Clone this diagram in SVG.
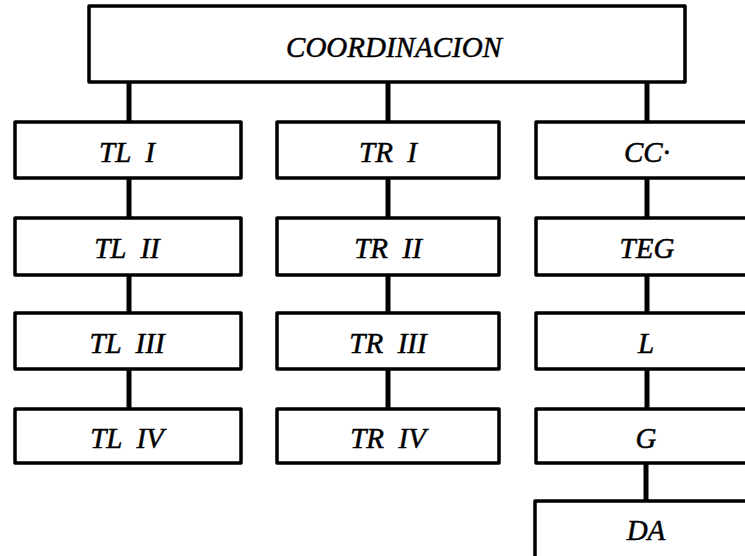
<svg xmlns="http://www.w3.org/2000/svg" width="745" height="556" viewBox="0 0 745 556">
<style>
.box{fill:#fff;stroke:#000;stroke-width:3.5;stroke-linejoin:round}
.lbl{font-family:"Liberation Serif","Times New Roman",serif;font-style:italic;font-size:29px;fill:#000;stroke:#000;stroke-width:0.5;text-anchor:middle;white-space:pre}
.con line{stroke:#000;stroke-width:5}
</style>
<rect width="745" height="556" fill="#fff"/>
<g id="connectors" class="con">
<line x1="129" y1="82" x2="129" y2="122"/>
<line x1="388" y1="82" x2="388" y2="122"/>
<line x1="647" y1="82" x2="647" y2="122"/>
<line x1="129" y1="178" x2="129" y2="218"/>
<line x1="129" y1="275" x2="129" y2="313"/>
<line x1="129" y1="369" x2="129" y2="409"/>
<line x1="388" y1="178" x2="388" y2="218"/>
<line x1="388" y1="275" x2="388" y2="313"/>
<line x1="388" y1="369" x2="388" y2="409"/>
<line x1="647" y1="178" x2="647" y2="218"/>
<line x1="647" y1="275" x2="647" y2="313"/>
<line x1="647" y1="369" x2="647" y2="409"/>
<line x1="646" y1="463" x2="646" y2="501"/>
</g>
<g id="coord"><rect class="box" x="89" y="6" width="596" height="76"/><text class="lbl" x="394" y="57" xml:space="preserve">COORDINACION</text></g>
<g id="tl1"><rect class="box" x="15" y="122" width="226" height="56"/><text class="lbl" x="127" y="162" xml:space="preserve">TL  I</text></g>
<g id="tl2"><rect class="box" x="15" y="218" width="226" height="57"/><text class="lbl" x="127" y="258" xml:space="preserve">TL  II</text></g>
<g id="tl3"><rect class="box" x="15" y="313" width="226" height="56"/><text class="lbl" x="127" y="353" xml:space="preserve">TL  III</text></g>
<g id="tl4"><rect class="box" x="15" y="409" width="226" height="54"/><text class="lbl" x="127" y="448" xml:space="preserve">TL  IV</text></g>
<g id="tr1"><rect class="box" x="277" y="122" width="222" height="56"/><text class="lbl" x="388" y="162" xml:space="preserve">TR  I</text></g>
<g id="tr2"><rect class="box" x="277" y="218" width="222" height="57"/><text class="lbl" x="388" y="258" xml:space="preserve">TR  II</text></g>
<g id="tr3"><rect class="box" x="277" y="313" width="222" height="56"/><text class="lbl" x="388" y="353" xml:space="preserve">TR  III</text></g>
<g id="tr4"><rect class="box" x="277" y="409" width="222" height="54"/><text class="lbl" x="388" y="448" xml:space="preserve">TR  IV</text></g>
<g id="cc"><rect class="box" x="536" y="122" width="230" height="56"/><text class="lbl" x="647" y="162">CC·</text></g>
<g id="teg"><rect class="box" x="536" y="218" width="230" height="57"/><text class="lbl" x="647" y="258">TEG</text></g>
<g id="l"><rect class="box" x="536" y="313" width="230" height="56"/><text class="lbl" x="646" y="353">L</text></g>
<g id="g"><rect class="box" x="536" y="409" width="230" height="54"/><text class="lbl" x="646" y="448">G</text></g>
<g id="da"><rect class="box" x="535" y="501" width="230" height="70"/><text class="lbl" x="646" y="540">DA</text></g>
</svg>
